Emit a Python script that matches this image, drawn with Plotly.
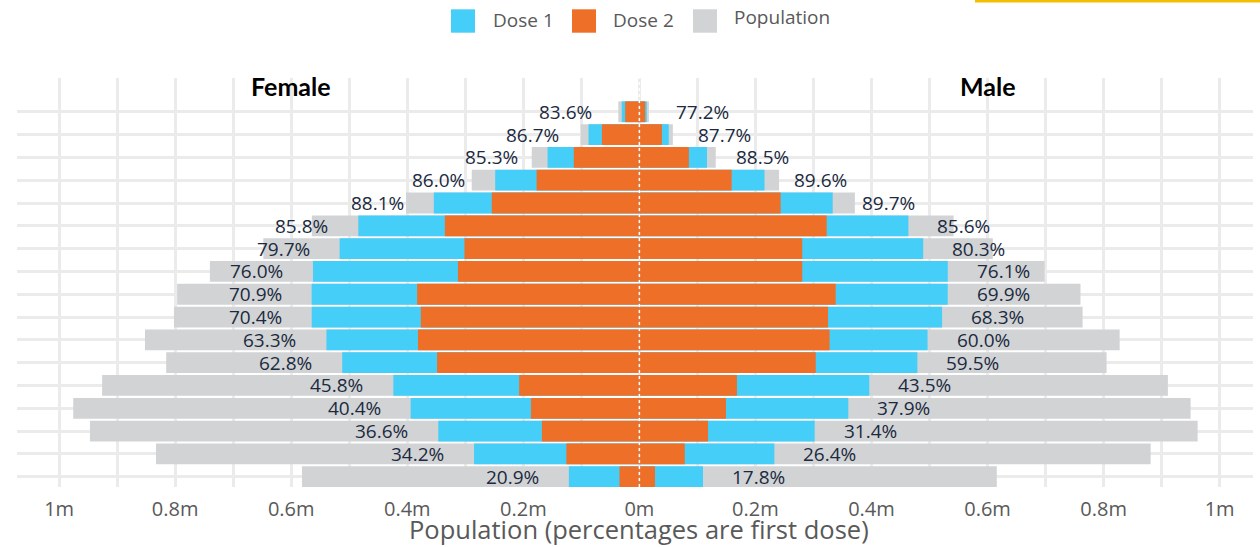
import plotly.graph_objects as go

# Age bands, oldest at the top of the pyramid
ages = ["90+", "85-89", "80-84", "75-79", "70-74", "65-69", "60-64", "55-59", "50-54",
        "45-49", "40-44", "35-39", "30-34", "25-29", "20-24", "16-19", "12-15"]

# Female counts (people)
female_pop = [36300, 101100, 185500, 288900, 402100, 564500, 648100, 740200, 796600,
              802100, 852000, 815500, 925900, 975700, 946900, 833100, 581400]
female_dose1 = [30347, 87654, 158232, 248454, 354250, 484341, 516536, 562552, 564789,
                564678, 539316, 512134, 424062, 394183, 346565, 284920, 121513]
female_dose2 = [24500, 64600, 113000, 177100, 254400, 335200, 301500, 312700, 383100,
                376700, 381600, 348700, 207200, 186900, 168000, 125800, 34300]

# Male counts (people)
male_pop = [16400, 57700, 131600, 240700, 371400, 541600, 609100, 698400, 760200,
            763800, 827700, 805200, 910800, 950000, 962100, 881100, 616000]
male_dose1 = [12661, 50603, 116466, 215667, 333146, 463610, 489107, 531482, 531380,
              521675, 496620, 479094, 396198, 360050, 302099, 232610, 109648]
male_dose2 = [10000, 38800, 85300, 159000, 243400, 322800, 280600, 280600, 338300,
              325100, 327800, 303900, 168100, 149200, 118300, 78200, 26900]

tick_vals = [v * 100000 for v in range(-10, 11)]
tick_text = ["1m", "", "0.8m", "", "0.6m", "", "0.4m", "", "0.2m", "", "0m",
             "", "0.2m", "", "0.4m", "", "0.6m", "", "0.8m", "", "1m"]

C_D1 = "#45CEF8"
C_D2 = "#EE6F28"
C_POP = "#D2D3D5"
LABEL_C = "#1B2A40"
TEXT_GREY = "#595959"
FONT = "Open Sans"

W, H = 1260, 547
ML, MR, MT, MB = 17, 7, 78, 60


def paper_x(px):
    return (px - ML) / (W - ML - MR)


def paper_y(py):
    return (H - MB - py) / (H - MT - MB)


fig = go.Figure()
bar_w = 0.91

for name, color, fvals, mvals in [
    ("Population", C_POP, female_pop, male_pop),
    ("Dose 1", C_D1, female_dose1, male_dose1),
    ("Dose 2", C_D2, female_dose2, male_dose2),
]:
    fig.add_trace(go.Bar(y=ages, x=[-v for v in fvals], orientation="h", name=name,
                         marker=dict(color=color, line=dict(width=0)), width=bar_w,
                         showlegend=False, hovertemplate="%{y}: %{customdata:,}<extra>" + name + "</extra>",
                         customdata=fvals))
    fig.add_trace(go.Bar(y=ages, x=mvals, orientation="h", name=name,
                         marker=dict(color=color, line=dict(width=0)), width=bar_w,
                         showlegend=False, hovertemplate="%{y}: %{x:,}<extra>" + name + "</extra>"))

annotations = []
# First-dose percentage labels beside each dose 1 bar
for age, p, d in zip(ages, female_pop, female_dose1):
    annotations.append(dict(x=-d, y=age, xref="x", yref="y", text=f"{d / p:.1%}",
                            showarrow=False, xanchor="right", yanchor="middle", xshift=-28,
                            font=dict(family=FONT, size=19, color=LABEL_C)))
for age, p, d in zip(ages, male_pop, male_dose1):
    annotations.append(dict(x=d, y=age, xref="x", yref="y", text=f"{d / p:.1%}",
                            showarrow=False, xanchor="left", yanchor="middle", xshift=27,
                            font=dict(family=FONT, size=19, color=LABEL_C)))

# Side headings
for label, xv in [("Female", -600000), ("Male", 600000)]:
    annotations.append(dict(x=xv, y=paper_y(86), xref="x", yref="paper", text=f"<b>{label}</b>",
                            showarrow=False, xanchor="center", yanchor="middle",
                            font=dict(family="Lato", size=25, color="#000000")))

# Axis title
annotations.append(dict(x=0, y=paper_y(529), xref="x", yref="paper",
                        text="Population (percentages are first dose)",
                        showarrow=False, xanchor="center", yanchor="middle",
                        font=dict(family=FONT, size=25.5, color=TEXT_GREY)))

# Legend
shapes = []
legend_items = [("Dose 1", C_D1, 451, 491, 20), ("Dose 2", C_D2, 572, 611, 20),
                ("Population", C_POP, 693, 732, 17)]
for text, color, sq_x, tx_x, ty in legend_items:
    shapes.append(dict(type="rect", xref="paper", yref="paper",
                       x0=paper_x(sq_x), x1=paper_x(sq_x + 24),
                       y0=paper_y(32.7), y1=paper_y(9.3),
                       fillcolor=color, line=dict(width=0), layer="above"))
    annotations.append(dict(x=paper_x(tx_x), y=paper_y(ty), xref="paper", yref="paper",
                            text=text, showarrow=False, xanchor="left", yanchor="middle",
                            font=dict(family=FONT, size=19, color=TEXT_GREY)))

# Accent strip at the top right
shapes.append(dict(type="rect", xref="paper", yref="paper",
                   x0=paper_x(975), x1=paper_x(1262), y0=paper_y(2.5), y1=paper_y(-2),
                   fillcolor="#F5BE00", line=dict(width=0), layer="above"))

# Dotted centre line
shapes.append(dict(type="line", xref="x", yref="paper", x0=0, x1=0, y0=0, y1=1,
                   line=dict(color="white", width=1.5, dash="dot"), layer="above"))

fig.update_layout(
    width=W, height=H,
    margin=dict(l=ML, r=MR, t=MT, b=MB),
    barmode="overlay",
    plot_bgcolor="white", paper_bgcolor="white",
    font=dict(family=FONT, color=TEXT_GREY),
    annotations=annotations,
    shapes=shapes,
    showlegend=False,
    xaxis=dict(range=[-1072600, 1057500], tickmode="array", tickvals=tick_vals, ticktext=tick_text,
               showgrid=True, gridcolor="#EBEBEB", gridwidth=2.5, zeroline=False,
               showline=False, ticks="", tickfont=dict(size=20, color=TEXT_GREY),
               ticklabelstandoff=8, fixedrange=True),
    yaxis=dict(type="category", categoryorder="array", categoryarray=ages,
               range=[16.45, -1.48], showgrid=True, gridcolor="#EBEBEB", gridwidth=2.5,
               showticklabels=False, ticks="", zeroline=False, showline=False, fixedrange=True),
)

fig.write_html("out.html")
